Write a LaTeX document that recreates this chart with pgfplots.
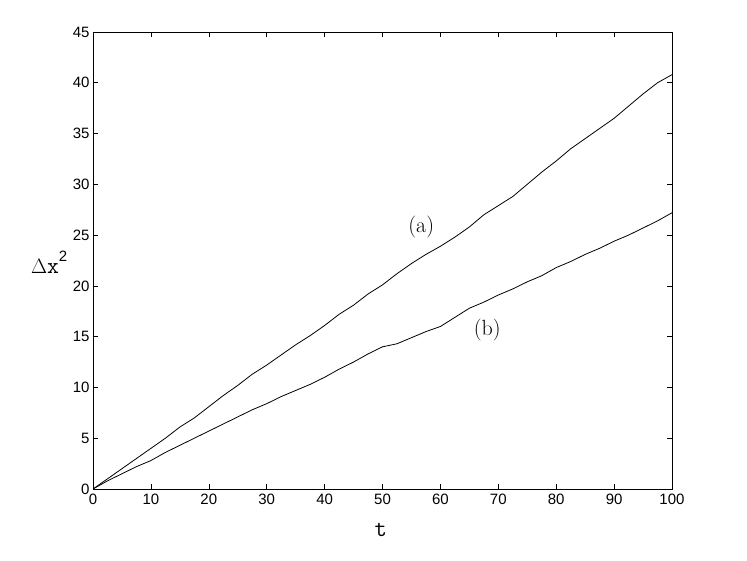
\documentclass[border=0pt]{standalone}
\usepackage{fontspec}
\setsansfont{Liberation Sans}
\usepackage{pgfplots}
\pgfplotsset{compat=1.18}
\begin{document}
\begin{tikzpicture}
\begin{axis}[
  scale only axis,
  width=579pt, height=457pt,
  xmin=0, xmax=100, ymin=0, ymax=45,
  xtick={0,10,...,100}, ytick={0,5,...,45},
  tick align=inside,
  major tick length=5pt,
  axis line style={line width=0.8pt},
  tick style={line width=0.6pt, black},
  /pgf/number format/assume math mode=true,
  tick label style={font=\sffamily\fontsize{15}{15}\selectfont},
  xticklabel style={yshift=-1pt},
  every axis x label/.style={at={(axis description cs:0.497,-0.105)}, anchor=base},
  every axis y label/.style={at={(axis description cs:-0.044,0.471)}, anchor=base east, inner sep=0pt},
  xlabel={{\ttfamily\fontsize{24}{24}\selectfont t}},
  ylabel={{\fontsize{20}{20}\selectfont$\Delta$\ttfamily\fontsize{23}{23}\selectfont x}\raisebox{12pt}{\sffamily\fontsize{15}{15}\selectfont 2}},
]
\addplot[black, line width=0.8pt] coordinates {
(0,0) (2.5,1.0) (5,2.0) (7.5,3.0) (10,4.0) (12.5,5.0) (15,6.1) (17.5,7.0) (20,8.1)
(22.5,9.2) (25,10.2) (27.5,11.3) (30,12.2) (32.5,13.2) (35,14.2) (37.5,15.1) (40,16.1)
(42.5,17.2) (45,18.1) (47.5,19.2) (50,20.1) (52.5,21.2) (55,22.2) (57.5,23.1) (60,23.9)
(62.5,24.8) (65,25.8) (67.5,27.0) (70,27.9) (72.5,28.8) (75,30.0) (77.5,31.2) (80,32.3)
(82.5,33.5) (85,34.5) (87.5,35.5) (90,36.5) (92.5,37.7) (95,38.9) (97.5,40.0) (100,40.8)
};
\addplot[black, line width=0.8pt] coordinates {
(0,0) (2.5,0.8) (5,1.5) (7.5,2.2) (10,2.8) (12.5,3.6) (15,4.3) (17.5,5.0) (20,5.7)
(22.5,6.4) (25,7.1) (27.5,7.8) (30,8.4) (32.5,9.1) (35,9.7) (37.5,10.3) (40,11.0)
(42.5,11.8) (45,12.5) (47.5,13.3) (50,14.0) (52.5,14.3) (55,14.9) (57.5,15.5) (60,16.0)
(62.5,16.9) (65,17.8) (67.5,18.4) (70,19.1) (72.5,19.7) (75,20.4) (77.5,21.0) (80,21.8)
(82.5,22.4) (85,23.1) (87.5,23.7) (90,24.4) (92.5,25.0) (95,25.7) (97.5,26.4) (100,27.2)
};
\node[font=\fontsize{22}{22}\selectfont] at (axis cs:56.7,25.8) {(a)};
\node[font=\fontsize{22}{22}\selectfont] at (axis cs:68.1,15.7) {(b)};
\end{axis}
\path[use as bounding box] ([shift={(-93pt,-72pt)}]current axis.south west) rectangle ([shift={(75pt,32pt)}]current axis.north east);
\end{tikzpicture}
\end{document}
